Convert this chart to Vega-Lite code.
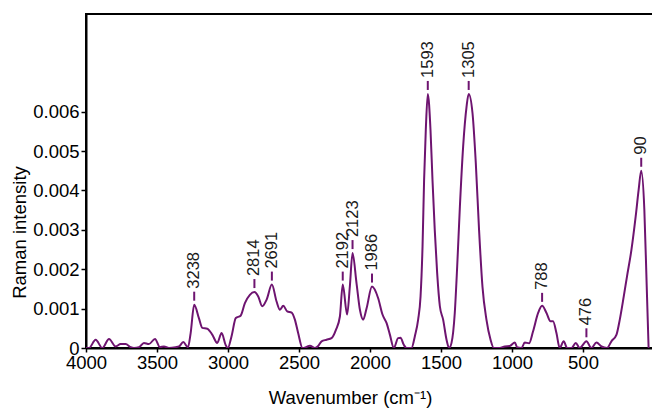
{
  "$schema": "https://vega.github.io/schema/vega-lite/v6.json",
  "width": 568,
  "height": 334,
  "autosize": "none",
  "padding": {"left": 86, "top": 14, "right": 0, "bottom": 60},
  "background": "white",
  "config": {
    "view": {"stroke": "black", "strokeWidth": 2},
    "font": "Liberation Sans",
    "axis": {
      "grid": false,
      "domainColor": "black",
      "domainWidth": 2,
      "tickColor": "black",
      "tickWidth": 1.5,
      "labelColor": "black",
      "labelFont": "Liberation Sans",
      "labelFontSize": 18.5,
      "titleFont": "Liberation Sans",
      "titleFontSize": 18.5,
      "titleFontWeight": "normal",
      "titleColor": "black"
    }
  },
  "datasets": {
    "spectrum": [
      {"wavenumber": 4000, "intensity": 0},
      {"wavenumber": 3979, "intensity": 0},
      {"wavenumber": 3932, "intensity": 0.00021},
      {"wavenumber": 3885, "intensity": 0},
      {"wavenumber": 3838, "intensity": 0.00023},
      {"wavenumber": 3791, "intensity": 0.00004},
      {"wavenumber": 3756, "intensity": 0.0001},
      {"wavenumber": 3721, "intensity": 0.0001},
      {"wavenumber": 3685, "intensity": 0.00002},
      {"wavenumber": 3662, "intensity": 0},
      {"wavenumber": 3627, "intensity": 0.00002},
      {"wavenumber": 3592, "intensity": 0.00013},
      {"wavenumber": 3557, "intensity": 0.0001},
      {"wavenumber": 3514, "intensity": 0.00023},
      {"wavenumber": 3479, "intensity": 0.00002},
      {"wavenumber": 3451, "intensity": 0.00004},
      {"wavenumber": 3416, "intensity": 0},
      {"wavenumber": 3369, "intensity": 0.00002},
      {"wavenumber": 3345, "intensity": 0.00004},
      {"wavenumber": 3315, "intensity": 0.00015},
      {"wavenumber": 3282, "intensity": 0.00002},
      {"wavenumber": 3263, "intensity": 0.00038},
      {"wavenumber": 3238, "intensity": 0.0011},
      {"wavenumber": 3205, "intensity": 0.00076},
      {"wavenumber": 3181, "intensity": 0.00051},
      {"wavenumber": 3146, "intensity": 0.00049},
      {"wavenumber": 3111, "intensity": 0.00034},
      {"wavenumber": 3076, "intensity": 0.00013},
      {"wavenumber": 3045, "intensity": 0.00038},
      {"wavenumber": 3017, "intensity": 0.00008},
      {"wavenumber": 3001, "intensity": 0},
      {"wavenumber": 2975, "intensity": 0.0003},
      {"wavenumber": 2945, "intensity": 0.00076},
      {"wavenumber": 2911, "intensity": 0.00082},
      {"wavenumber": 2881, "intensity": 0.00114},
      {"wavenumber": 2846, "intensity": 0.00135},
      {"wavenumber": 2814, "intensity": 0.00142},
      {"wavenumber": 2787, "intensity": 0.00131},
      {"wavenumber": 2759, "intensity": 0.00106},
      {"wavenumber": 2728, "intensity": 0.00123},
      {"wavenumber": 2691, "intensity": 0.00161},
      {"wavenumber": 2658, "intensity": 0.00118},
      {"wavenumber": 2634, "intensity": 0.00097},
      {"wavenumber": 2611, "intensity": 0.00107},
      {"wavenumber": 2583, "intensity": 0.00093},
      {"wavenumber": 2552, "intensity": 0.0009},
      {"wavenumber": 2529, "intensity": 0.00072},
      {"wavenumber": 2506, "intensity": 0.00038},
      {"wavenumber": 2475, "intensity": 0},
      {"wavenumber": 2451, "intensity": 0.00002},
      {"wavenumber": 2423, "intensity": 0.00006},
      {"wavenumber": 2388, "intensity": 0},
      {"wavenumber": 2365, "intensity": 0.00005},
      {"wavenumber": 2341, "intensity": 0.00017},
      {"wavenumber": 2306, "intensity": 0.00021},
      {"wavenumber": 2271, "intensity": 0.00025},
      {"wavenumber": 2240, "intensity": 0.00046},
      {"wavenumber": 2212, "intensity": 0.0008},
      {"wavenumber": 2192, "intensity": 0.00161},
      {"wavenumber": 2161, "intensity": 0.00085},
      {"wavenumber": 2142, "intensity": 0.00156},
      {"wavenumber": 2123, "intensity": 0.00241},
      {"wavenumber": 2095, "intensity": 0.00165},
      {"wavenumber": 2071, "intensity": 0.00097},
      {"wavenumber": 2048, "intensity": 0.00072},
      {"wavenumber": 2024, "intensity": 0.00101},
      {"wavenumber": 1986, "intensity": 0.00156},
      {"wavenumber": 1943, "intensity": 0.00127},
      {"wavenumber": 1912, "intensity": 0.00085},
      {"wavenumber": 1883, "intensity": 0.00063},
      {"wavenumber": 1860, "intensity": 0.00034},
      {"wavenumber": 1832, "intensity": 0},
      {"wavenumber": 1802, "intensity": 0.00025},
      {"wavenumber": 1785, "intensity": 0.00026},
      {"wavenumber": 1762, "intensity": 0.00008},
      {"wavenumber": 1743, "intensity": 0},
      {"wavenumber": 1708, "intensity": 0},
      {"wavenumber": 1684, "intensity": 0.0003},
      {"wavenumber": 1661, "intensity": 0.00072},
      {"wavenumber": 1644, "intensity": 0.00131},
      {"wavenumber": 1630, "intensity": 0.00258},
      {"wavenumber": 1619, "intensity": 0.00427},
      {"wavenumber": 1607, "intensity": 0.00554},
      {"wavenumber": 1593, "intensity": 0.00645},
      {"wavenumber": 1574, "intensity": 0.00554},
      {"wavenumber": 1560, "intensity": 0.00427},
      {"wavenumber": 1544, "intensity": 0.003},
      {"wavenumber": 1527, "intensity": 0.0019},
      {"wavenumber": 1508, "intensity": 0.00106},
      {"wavenumber": 1485, "intensity": 0.00072},
      {"wavenumber": 1461, "intensity": 0.00021},
      {"wavenumber": 1443, "intensity": 0},
      {"wavenumber": 1426, "intensity": 0.00013},
      {"wavenumber": 1403, "intensity": 0.00089},
      {"wavenumber": 1386, "intensity": 0.00207},
      {"wavenumber": 1367, "intensity": 0.00359},
      {"wavenumber": 1344, "intensity": 0.00512},
      {"wavenumber": 1320, "intensity": 0.00613},
      {"wavenumber": 1305, "intensity": 0.00645},
      {"wavenumber": 1278, "intensity": 0.00596},
      {"wavenumber": 1255, "intensity": 0.0047},
      {"wavenumber": 1232, "intensity": 0.003},
      {"wavenumber": 1208, "intensity": 0.00156},
      {"wavenumber": 1180, "intensity": 0.00072},
      {"wavenumber": 1151, "intensity": 0.00021},
      {"wavenumber": 1128, "intensity": 0},
      {"wavenumber": 1086, "intensity": 0},
      {"wavenumber": 1051, "intensity": 0.00004},
      {"wavenumber": 1016, "intensity": 0.00005},
      {"wavenumber": 980, "intensity": 0.00014},
      {"wavenumber": 964, "intensity": 0.00002},
      {"wavenumber": 933, "intensity": 0},
      {"wavenumber": 910, "intensity": 0.00014},
      {"wavenumber": 880, "intensity": 0.00012},
      {"wavenumber": 852, "intensity": 0.00042},
      {"wavenumber": 816, "intensity": 0.00089},
      {"wavenumber": 788, "intensity": 0.00107},
      {"wavenumber": 757, "intensity": 0.00089},
      {"wavenumber": 729, "intensity": 0.00068},
      {"wavenumber": 711, "intensity": 0.00068},
      {"wavenumber": 687, "intensity": 0.00038},
      {"wavenumber": 664, "intensity": 0},
      {"wavenumber": 636, "intensity": 0.00017},
      {"wavenumber": 612, "intensity": 0},
      {"wavenumber": 581, "intensity": 0},
      {"wavenumber": 551, "intensity": 0.00013},
      {"wavenumber": 523, "intensity": 0},
      {"wavenumber": 476, "intensity": 0.00017},
      {"wavenumber": 441, "intensity": 0},
      {"wavenumber": 405, "intensity": 0.00014},
      {"wavenumber": 370, "intensity": 0.00004},
      {"wavenumber": 331, "intensity": 0},
      {"wavenumber": 300, "intensity": 0.00017},
      {"wavenumber": 264, "intensity": 0.00034},
      {"wavenumber": 241, "intensity": 0.00072},
      {"wavenumber": 213, "intensity": 0.00131},
      {"wavenumber": 190, "intensity": 0.00182},
      {"wavenumber": 159, "intensity": 0.00249},
      {"wavenumber": 129, "intensity": 0.00334},
      {"wavenumber": 108, "intensity": 0.00402},
      {"wavenumber": 90, "intensity": 0.0045},
      {"wavenumber": 68, "intensity": 0.00351},
      {"wavenumber": 52, "intensity": 0.00165},
      {"wavenumber": 38, "intensity": 0}
    ],
    "peaks": [
      {"wavenumber": 3238, "intensity": 0.0011, "label": "3238"},
      {"wavenumber": 2814, "intensity": 0.00142, "label": "2814"},
      {"wavenumber": 2691, "intensity": 0.00161, "label": "2691"},
      {"wavenumber": 2192, "intensity": 0.00161, "label": "2192"},
      {"wavenumber": 2123, "intensity": 0.00241, "label": "2123"},
      {"wavenumber": 1986, "intensity": 0.00156, "label": "1986"},
      {"wavenumber": 1593, "intensity": 0.00645, "label": "1593"},
      {"wavenumber": 1305, "intensity": 0.00645, "label": "1305"},
      {"wavenumber": 788, "intensity": 0.00107, "label": "788"},
      {"wavenumber": 476, "intensity": 0.00017, "label": "476"},
      {"wavenumber": 90, "intensity": 0.0045, "label": "90"}
    ]
  },
  "layer": [
    {
      "data": {"name": "spectrum"},
      "mark": {"type": "line", "interpolate": "monotone", "color": "#6e1470", "strokeWidth": 2, "clip": true},
      "encoding": {
        "x": {
          "field": "wavenumber",
          "type": "quantitative",
          "scale": {"domain": [0, 4000], "reverse": true, "nice": false},
          "axis": {
            "values": [500, 1000, 1500, 2000, 2500, 3000, 3500, 4000],
            "format": "d",
            "labelFlush": false,
            "tickSize": 4,
            "labelPadding": 1,
            "title": "Wavenumber (cm⁻¹)",
            "titleX": 264,
            "titleY": 55,
            "titleAlign": "center",
            "titleBaseline": "alphabetic"
          }
        },
        "y": {
          "field": "intensity",
          "type": "quantitative",
          "scale": {"domain": [0, 0.00848], "nice": false},
          "axis": {
            "values": [0, 0.001, 0.002, 0.003, 0.004, 0.005, 0.006],
            "format": ".3~f",
            "labelFlush": false,
            "tickSize": 5,
            "labelPadding": 2,
            "title": "Raman intensity",
            "titleAngle": 270,
            "titleX": -61,
            "titleY": 218,
            "titleAlign": "center",
            "titleBaseline": "alphabetic"
          }
        }
      }
    },
    {
      "data": {"name": "peaks"},
      "mark": {"type": "rule", "color": "#6e1470", "strokeWidth": 2, "yOffset": -4, "y2Offset": -13},
      "encoding": {
        "x": {"field": "wavenumber", "type": "quantitative"},
        "y": {"field": "intensity", "type": "quantitative"},
        "y2": {"field": "intensity"}
      }
    },
    {
      "data": {"name": "peaks"},
      "mark": {"type": "text", "angle": 270, "align": "left", "baseline": "middle", "yOffset": -16, "fontSize": 16.5, "font": "Liberation Sans", "color": "#1a1a1a"},
      "encoding": {
        "x": {"field": "wavenumber", "type": "quantitative"},
        "y": {"field": "intensity", "type": "quantitative"},
        "text": {"field": "label"}
      }
    }
  ]
}
